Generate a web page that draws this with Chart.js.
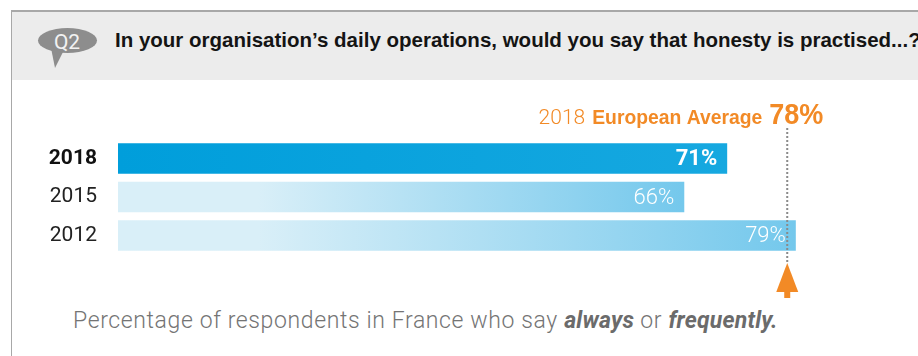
<!DOCTYPE html>
<html lang="en">
<head>
<meta charset="UTF-8">
<title>Honesty in daily operations</title>
<script src="https://cdn.jsdelivr.net/npm/chart.js@4.4.1/dist/chart.umd.min.js"></script>
<style>
  body { margin: 0; background: #fff; }
  #wrap { position: relative; width: 918px; height: 356px; overflow: hidden; font-family: "Liberation Sans", Arial, sans-serif; }
  #frame { position: absolute; left: 11px; top: 10px; width: 940px; height: 380px; border-left: 1px solid #a8a8a8; border-top: 2px solid #a8a8a8; }
  #header { position: absolute; left: 12px; top: 12px; width: 906px; height: 68px; background: #ececec; }
  #bubble { position: absolute; left: 0; top: 0; }
  #question { position: absolute; left: 115px; top: 30px; font-size: 20.5px; font-weight: bold; color: #141414; white-space: nowrap; line-height: 20px; }
  #note { position: absolute; left: 73px; top: 308.5px; font-family: Roboto, sans-serif; font-weight: 300; font-size: 23px; letter-spacing: 0.62px; color: #747474; white-space: nowrap; line-height: 24px; }
  #note b { font-weight: bold; color: #6b6b6b; letter-spacing: 0.2px; }
  #chart { position: absolute; left: 0; top: 0; }
</style>
</head>
<body>
<div id="wrap">
  <div id="frame"></div>
  <div id="header"></div>
  <svg id="bubble" width="110" height="80">
    <ellipse cx="67.5" cy="40.5" rx="29.5" ry="12.5" fill="#8d8d8d"/>
    <polygon points="51,48 63,52 55,68" fill="#8d8d8d"/>
    <text x="67" y="48.5" text-anchor="middle" font-family="Roboto, sans-serif" font-size="21" fill="#f2f2f2">Q2</text>
  </svg>
  <div id="question">In your organisation’s daily operations, would you say that honesty is practised...?</div>
  <div id="note">Percentage of respondents in France who say <b><i>always</i></b> or <b><i>frequently.</i></b></div>
  <canvas id="chart" width="918" height="356"></canvas>
</div>
<script>
// survey waves and share answering "always" or "frequently"
const years = ['2018', '2015', '2012'];
const shares = [71, 66, 79];
const euAverage = 78;
const euAverageYear = '2018';

const orange = '#f28a26';

// right-aligned text squeezed horizontally (condensed look)
function squeezedText(ctx, text, right, y, sx) {
  const w = ctx.measureText(text).width * sx;
  ctx.save();
  ctx.translate(right - w, y);
  ctx.scale(sx, 1);
  ctx.textAlign = 'left';
  ctx.fillText(text, 0, 0);
  ctx.restore();
  return w;
}

// value labels inside the bars plus the European average marker
const overlay = {
  id: 'overlay',
  afterDatasetsDraw(chart) {
    const ctx = chart.ctx;
    const bars = chart.getDatasetMeta(0).data;
    ctx.save();
    ctx.fillStyle = '#fff';
    ctx.textAlign = 'right';
    ctx.textBaseline = 'middle';
    bars.forEach((bar, i) => {
      ctx.font = (i === 0 ? 'bold ' : '300 ') + '22px Roboto';
      ctx.fillText(shares[i] + '%', bar.x - 10, bar.y + 1);
    });

    const ax = chart.scales.x.getPixelForValue(euAverage);

    // dotted guide
    ctx.strokeStyle = '#8a8a8a';
    ctx.lineWidth = 2;
    ctx.setLineDash([2, 2]);
    ctx.beginPath();
    ctx.moveTo(ax, 128);
    ctx.lineTo(ax, 264);
    ctx.stroke();
    ctx.setLineDash([]);

    // arrow
    ctx.fillStyle = orange;
    ctx.beginPath();
    ctx.moveTo(ax, 263);
    ctx.lineTo(ax + 11, 292);
    ctx.lineTo(ax - 11, 292);
    ctx.closePath();
    ctx.fill();
    ctx.fillRect(ax - 3, 291, 6, 7);

    // caption, laid out right to left
    ctx.textBaseline = 'alphabetic';
    let x = ax + 36;
    ctx.font = 'bold 30px "Liberation Sans"';
    x -= squeezedText(ctx, euAverage + '%', x, 124, 0.9) + 7;
    ctx.font = 'bold 21px "Liberation Sans"';
    x -= squeezedText(ctx, 'European Average', x, 124, 0.92) + 7;
    ctx.font = '300 21px Roboto';
    ctx.fillText(euAverageYear, x, 124);
    ctx.restore();
  }
};

const ctx = document.getElementById('chart').getContext('2d');
new Chart(ctx, {
  type: 'bar',
  data: {
    labels: years,
    datasets: [{
      data: shares,
      borderWidth: 0,
      barPercentage: 0.79,
      categoryPercentage: 1,
      backgroundColor(c) {
        const chart = c.chart;
        const area = chart.chartArea;
        if (!area) return '#009fdc';
        const end = chart.scales.x.getPixelForValue(shares[c.dataIndex]);
        const g = chart.ctx.createLinearGradient(area.left, 0, end, 0);
        if (c.dataIndex === 0) {
          g.addColorStop(0, '#009edb');
          g.addColorStop(1, '#16a8e0');
        } else {
          g.addColorStop(0, '#d9eff8');
          g.addColorStop(140 / (end - area.left), '#d9eff8');
          g.addColorStop(1, '#74c8ec');
        }
        return g;
      }
    }]
  },
  options: {
    indexAxis: 'y',
    responsive: false,
    animation: false,
    layout: { padding: { left: 0, right: 27.8, top: 139.25, bottom: 101.25 } },
    plugins: { legend: { display: false }, tooltip: { enabled: false } },
    scales: {
      x: { display: false, min: 0, max: 90 },
      y: {
        grid: { display: false },
        border: { display: false },
        afterFit(scale) { scale.width = 118; },
        ticks: {
          padding: 13,
          color: c => c.index === 0 ? '#111' : '#222',
          font: c => ({ family: 'Roboto', size: 21, weight: c.index === 0 ? 'bold' : 'normal' })
        }
      }
    }
  },
  plugins: [overlay]
});
</script>
</body>
</html>
